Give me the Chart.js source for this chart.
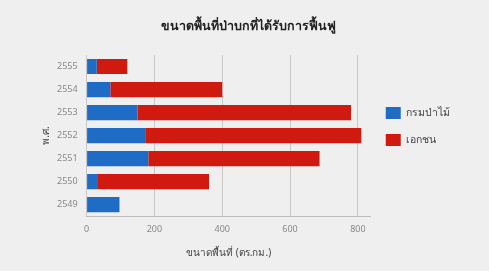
<!DOCTYPE html>
<html>
<head>
<meta charset="utf-8">
<script src="https://cdn.jsdelivr.net/npm/chart.js@4"></script>
<style>
  html, body { margin: 0; padding: 0; background: #efefef; }
  #wrap { width: 489px; height: 271px; }
</style>
</head>
<body>
<div id="wrap"><canvas id="c"></canvas></div>
<script>
const years = ["2555", "2554", "2553", "2552", "2551", "2550", "2549"];
const forestDept = [30, 70, 150, 175, 182, 31, 97];
const privateSector = [90, 330, 630, 635, 505, 330, 0];
const xTicks = [0, 200, 400, 600, 800];

const font = "'Noto Sans', sans-serif";

new Chart(document.getElementById("c"), {
  type: "bar",
  data: {
    labels: years,
    datasets: [
      {
        label: "กรมป่าไม้",
        data: forestDept,
        backgroundColor: "#1f6cc6",
        categoryPercentage: 0.66,
        barPercentage: 1,
      },
      {
        label: "เอกชน",
        data: privateSector,
        backgroundColor: "#d11a0f",
        categoryPercentage: 0.66,
        barPercentage: 1,
      },
    ],
  },
  options: {
    indexAxis: "y",
    responsive: true,
    maintainAspectRatio: false,
    animation: false,
    layout: { padding: { top: 11, left: 36, right: 29, bottom: 8 } },
    scales: {
      x: {
        stacked: true,
        min: 0,
        max: 838,
        afterBuildTicks: (axis) => {
          axis.ticks = xTicks.map((v) => ({ value: v }));
        },
        grid: { color: "#c8c8c8", drawTicks: false },
        border: { color: "#bbbbbb" },
        ticks: { padding: 8, color: "#888", font: { family: font, size: 9 } },
        title: {
          display: true,
          text: "ขนาดพื้นที่ (ตร.กม.)",
          color: "#444",
          font: { family: font, size: 10 },
        },
      },
      y: {
        stacked: true,
        grid: { display: false },
        border: { display: false },
        ticks: { padding: 1, color: "#888", font: { family: font, size: 9 } },
        title: {
          display: true,
          text: "พ.ศ.",
          color: "#444",
          font: { family: font, size: 10 },
        },
      },
    },
    plugins: {
      title: {
        display: true,
        text: "ขนาดพื้นที่ป่าบกที่ได้รับการฟื้นฟู",
        color: "#222",
        padding: { top: 8, bottom: 21 },
        font: { family: font, size: 12.5, weight: "bold" },
      },
      legend: {
        position: "right",
        align: "start",
        title: {
          display: true,
          text: " ",
          padding: { top: 0, bottom: 69 },
          font: { family: font, size: 10 },
        },
        labels: {
          boxWidth: 15,
          boxHeight: 12,
          padding: 15,
          color: "#444",
          font: { family: font, size: 10.5 },
        },
      },
      tooltip: { enabled: false },
    },
  },
});
</script>
</body>
</html>
